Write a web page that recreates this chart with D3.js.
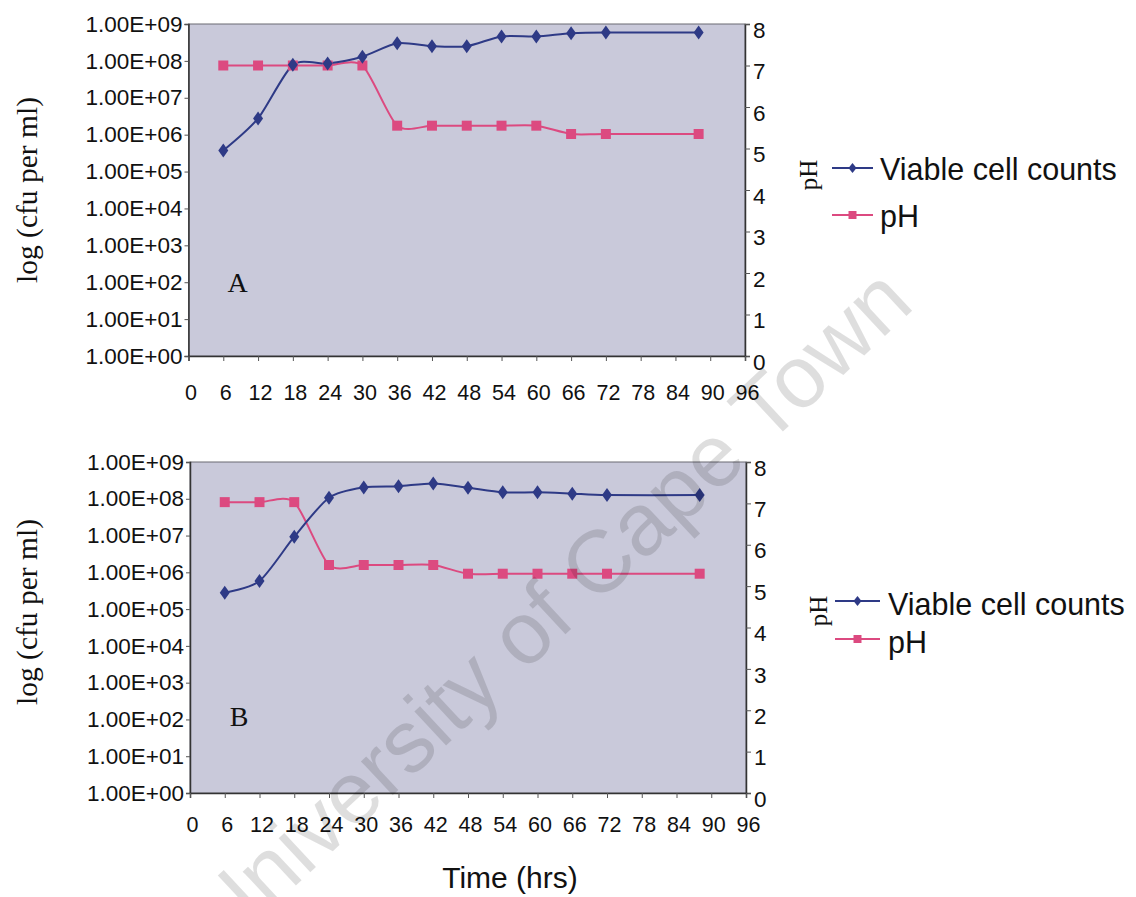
<!DOCTYPE html>
<html>
<head>
<meta charset="utf-8">
<script src="https://cdn.jsdelivr.net/npm/d3@7"></script>
<style>
  body{ margin:0; background:#fff; }
  svg{ display:block; }
</style>
</head>
<body>
<svg id="chart" width="1136" height="897"></svg>
<script>
// sampling times (hrs)
var hours = [6, 12, 18, 24, 30, 36, 42, 48, 54, 60, 66, 72, 88];

// panel A
var countsA = [3.7e5, 2.75e6, 7.8e7, 8.5e7, 1.3e8, 3.0e8, 2.5e8, 2.5e8, 4.6e8, 4.6e8, 5.6e8, 5.9e8, 5.9e8];
var phA = [7.0, 7.0, 7.0, 7.0, 7.0, 5.55, 5.55, 5.55, 5.55, 5.55, 5.35, 5.35, 5.35];

// panel B
var countsB = [2.8e5, 5.8e5, 9.3e6, 1.07e8, 2.04e8, 2.2e8, 2.6e8, 2.0e8, 1.5e8, 1.5e8, 1.38e8, 1.26e8, 1.26e8];
var phB = [7.03, 7.03, 7.03, 5.51, 5.51, 5.51, 5.51, 5.3, 5.3, 5.3, 5.3, 5.3, 5.3];

// axis ticks
var timeTicks = [0, 6, 12, 18, 24, 30, 36, 42, 48, 54, 60, 66, 72, 78, 84, 90, 96];
var countTicks = [1e0, 1e1, 1e2, 1e3, 1e4, 1e5, 1e6, 1e7, 1e8, 1e9];
var phTicks = [0, 1, 2, 3, 4, 5, 6, 7, 8];

var seriesNames = ['Viable cell counts', 'pH'];

var BLUE = '#2e3a86', PINK = '#dc4a80';
var SANS = '"Liberation Sans", Arial, sans-serif';
var SERIF = '"Liberation Serif", "Times New Roman", serif';

var svg = d3.select('#chart');

var panels = [
	{label: 'A', counts: countsA, ph: phA, left: 188.5, right: 745, top: 24, bottom: 356,
		tickBase: 400, letterY: 292, titleY: 190,
		legend: {pHx: 817, pHy: 175, x1: 832, x2: 873, y1: 168, y2: 215, tx: 880, ty1: 180, ty2: 227}},
	{label: 'B', counts: countsB, ph: phB, left: 190, right: 746, top: 462, bottom: 793,
		tickBase: 832, letterY: 726, titleY: 612,
		legend: {pHx: 827, pHy: 611, x1: 835, x2: 880, y1: 601, y2: 639, tx: 888, ty1: 615, ty2: 653}}
];

var diamond = 'M0,-7L5,0L0,7L-5,0Z';
var square = 'M-5,-5H5V5H-5Z';

panels.forEach(drawPanel);

//one panel: plot box, both axes, two series, letter, legend
function drawPanel(p){
	var g = svg.append('g');

	var x = d3.scaleLinear().domain([0, 96]).range([p.left, p.right]);
	var yCount = d3.scaleLog().domain([1, 1e9]).range([p.bottom, p.top]);
	var yPh = d3.scaleLinear().domain([0, 8]).range([p.bottom, p.top]);

	g.append('rect')
		.attr('x', p.left).attr('y', p.top)
		.attr('width', p.right - p.left).attr('height', p.bottom - p.top)
		.attr('fill', '#c9c9da')
		.attr('stroke', '#6a6a72').attr('stroke-width', 1);

	//left axis (log counts)
	var left = g.append('g')
		.attr('transform', 'translate(' + p.left + ',0)')
		.call(d3.axisLeft(yCount).tickValues(countTicks).tickSize(4).tickPadding(2)
			.tickFormat(function(d){
				var e = Math.round(Math.log10(d));
				return '1.00E+' + (e < 10 ? '0' : '') + e;
			}));
	styleAxis(left);
	left.selectAll('text').attr('font-size', 22.5);

	//right axis (pH)
	var right = g.append('g')
		.attr('transform', 'translate(' + p.right + ',0)')
		.call(d3.axisRight(yPh).tickValues(phTicks).tickSize(5).tickPadding(3).tickFormat(d3.format('d')));
	styleAxis(right);
	right.selectAll('text').attr('font-size', 22.5).attr('dy', '0.32em').attr('y', 6);

	//bottom axis (time)
	var bottom = g.append('g')
		.attr('transform', 'translate(0,' + p.bottom + ')')
		.call(d3.axisBottom(x).tickValues(timeTicks).tickSize(5).tickFormat(d3.format('d')));
	styleAxis(bottom);
	bottom.selectAll('text')
		.attr('font-size', 21.5)
		.attr('y', p.tickBase - p.bottom).attr('dy', 0)
		.attr('x', 2);

	//series (smoothed like the spreadsheet chart)
	var line = d3.line().curve(d3.curveCardinal.tension(0.25));
	var countPts = hours.map(function(h, i){ return [x(h), yCount(p.counts[i])]; });
	var phPts = hours.map(function(h, i){ return [x(h), yPh(p.ph[i])]; });

	g.append('path').attr('d', line(phPts))
		.attr('fill', 'none').attr('stroke', PINK).attr('stroke-width', 2);
	g.append('path').attr('d', line(countPts))
		.attr('fill', 'none').attr('stroke', BLUE).attr('stroke-width', 2);

	g.selectAll('.sq').data(phPts).enter().append('path')
		.attr('d', square).attr('fill', PINK)
		.attr('transform', function(d){ return 'translate(' + d[0] + ',' + d[1] + ')'; });
	g.selectAll('.dm').data(countPts).enter().append('path')
		.attr('d', diamond).attr('fill', BLUE)
		.attr('transform', function(d){ return 'translate(' + d[0] + ',' + d[1] + ')'; });

	//panel letter
	g.append('text').text(p.label)
		.attr('x', p.left + 49).attr('y', p.letterY)
		.attr('text-anchor', 'middle')
		.attr('font-family', SERIF).attr('font-size', 28).attr('fill', '#111');

	//left title
	g.append('text').text('log (cfu per ml)')
		.attr('transform', 'translate(37,' + p.titleY + ') rotate(-90)')
		.attr('text-anchor', 'middle')
		.attr('font-family', SERIF).attr('font-size', 29.5).attr('fill', '#111');

	//legend
	var L = p.legend;
	g.append('text').text('pH')
		.attr('transform', 'translate(' + L.pHx + ',' + L.pHy + ') rotate(-90)')
		.attr('text-anchor', 'middle')
		.attr('font-family', SERIF).attr('font-size', 25).attr('fill', '#111');

	var items = [
		{name: seriesNames[0], color: BLUE, shape: 'M0,-5L4,0L0,5L-4,0Z', y: L.y1, ty: L.ty1},
		{name: seriesNames[1], color: PINK, shape: 'M-4,-4H4V4H-4Z', y: L.y2, ty: L.ty2}
	];
	items.forEach(function(it){
		g.append('line')
			.attr('x1', L.x1).attr('x2', L.x2).attr('y1', it.y).attr('y2', it.y)
			.attr('stroke', it.color).attr('stroke-width', 2);
		g.append('path').attr('d', it.shape).attr('fill', it.color)
			.attr('transform', 'translate(' + ((L.x1 + L.x2) / 2) + ',' + it.y + ')');
		g.append('text').text(it.name)
			.attr('x', L.tx).attr('y', it.ty)
			.attr('font-family', SANS).attr('font-size', 30.5).attr('fill', '#111');
	});
}

function styleAxis(a){
	a.select('.domain').attr('stroke', '#333').attr('stroke-width', 1.5);
	a.selectAll('.tick line').attr('stroke', '#555');
	a.selectAll('text').attr('font-family', SANS).attr('fill', '#111');
}

//shared x title
svg.append('text').text('Time (hrs)')
	.attr('x', 510).attr('y', 888)
	.attr('text-anchor', 'middle')
	.attr('font-family', SANS).attr('font-size', 30).attr('fill', '#111');

//scan watermark
svg.append('text').text('University of Cape Town')
	.attr('transform', 'translate(570,630) rotate(-43)')
	.attr('text-anchor', 'middle')
	.attr('font-family', SANS).attr('font-size', 88)
	.attr('fill', '#000').attr('fill-opacity', 0.13);
</script>
</body>
</html>
